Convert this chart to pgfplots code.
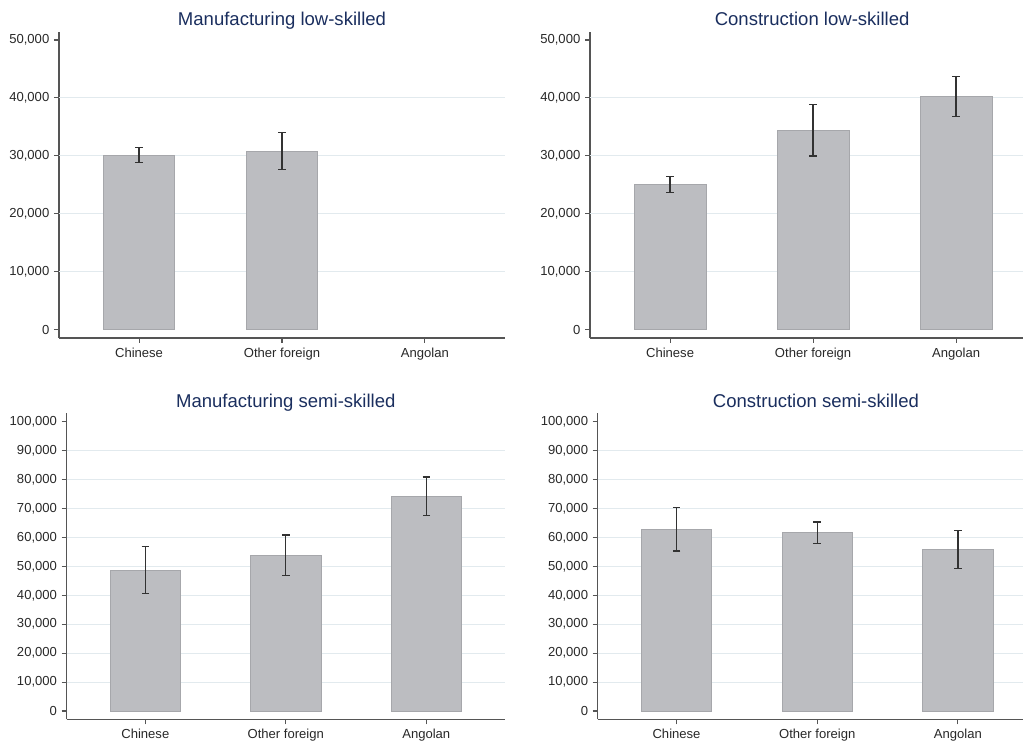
\documentclass[border=0pt]{standalone}
\usepackage{pgfplots}
\pgfplotsset{compat=1.18}
\usepackage{fontspec}
\setmainfont{Liberation Sans}
\definecolor{barfill}{RGB}{188,189,193}
\definecolor{baredge}{RGB}{166,167,171}
\definecolor{gridc}{RGB}{226,234,238}
\definecolor{titlec}{RGB}{26,46,94}
\definecolor{axc}{RGB}{85,85,85}
\definecolor{errc}{RGB}{50,50,50}
\definecolor{labc}{RGB}{40,40,40}
\pgfplotsset{
  panel/.style={
    scale only axis,
    height=229.5pt,
    axis x line*=bottom, axis y line*=left,
    axis line style={-, axc, line width=0.8pt},
    tick align=outside,
    major tick length=3.75pt,
    tick style={axc, line width=0.8pt},
    xmin=-0.56,
    xtick={0,1,2},
    xticklabels={Chinese, Other foreign, Angolan},
    ticklabel style={font=\fontsize{9.8}{11}\selectfont, text=labc},
    x tick label style={yshift=-0.3pt},
    scaled y ticks=false,
    extra y tick labels={},
    extra y tick style={grid=major, major tick length=0pt},
    major grid style={gridc, line width=0.8pt},
    title style={font=\fontsize{13.9}{16}\selectfont, text=titlec, anchor=base, yshift=-1.4pt},
    clip=false,
  },
  lowaxis/.style={ymin=-1430, ymax=51380, ytick={0,10000,20000,30000,40000,50000},
    yticklabels={0,{10,000},{20,000},{30,000},{40,000},{50,000}},
    extra y ticks={10000,20000,30000,40000}},
  semiaxis/.style={ymin=-2870, ymax=102900, ytick={0,10000,20000,30000,40000,50000,60000,70000,80000,90000,100000},
    yticklabels={0,{10,000},{20,000},{30,000},{40,000},{50,000},{60,000},{70,000},{80,000},{90,000},{100,000}},
    extra y ticks={10000,20000,30000,40000,50000,60000,70000,80000,90000}},
  barplot/.style={ybar, bar width=0.5, bar shift=0pt, fill=barfill, draw=baredge, line width=0.5pt,
    error bars/.cd, y dir=both, y explicit,
    error bar style={errc, line width=0.9pt},
    error mark options={rotate=90, errc, mark size=2.8pt, line width=0.9pt}},
}
\begin{document}
\begin{tikzpicture}
\useasboundingbox (0,0) rectangle (768pt,556.5pt);
% Top-left
\begin{axis}[panel, lowaxis, width=334.5pt, xmax=2.56,
  at={(44.25pt,303pt)}, anchor=south west,
  title={Manufacturing low-skilled}, title style={at={(0.5,1)}}]
\addplot[barplot] coordinates {
  (0,30100) += (0,1380) -= (0,1280)
  (1,30840) += (0,3230) -= (0,3160)
};
\end{axis}
% Top-right
\begin{axis}[panel, lowaxis, width=324.75pt, xmax=2.468,
  at={(442.5pt,303pt)}, anchor=south west,
  title={Construction low-skilled}, title style={at={(0.513,1)}}]
\addplot[barplot] coordinates {
  (0,25100) += (0,1300) -= (0,1390)
  (1,34410) += (0,4420) -= (0,4430)
  (2,40280) += (0,3390) -= (0,3520)
};
\end{axis}
% Bottom-left
\begin{axis}[panel, semiaxis, width=328.7pt, xmax=2.56,
  at={(50pt,17pt)}, anchor=south west,
  title={Manufacturing semi-skilled}, title style={at={(0.5,1)}}]
\addplot[barplot] coordinates {
  (0,48630) += (0,8160) -= (0,8080)
  (1,53820) += (0,7020) -= (0,7050)
  (2,74210) += (0,6680) -= (0,6700)
};
\end{axis}
% Bottom-right
\begin{axis}[panel, semiaxis, width=319pt, xmax=2.463,
  at={(448.3pt,17pt)}, anchor=south west,
  title={Construction semi-skilled}, title style={at={(0.513,1)}}]
\addplot[barplot] coordinates {
  (0,62670) += (0,7600) -= (0,7360)
  (1,61630) += (0,3700) -= (0,3660)
  (2,55750) += (0,6570) -= (0,6560)
};
\end{axis}
\end{tikzpicture}
\end{document}
